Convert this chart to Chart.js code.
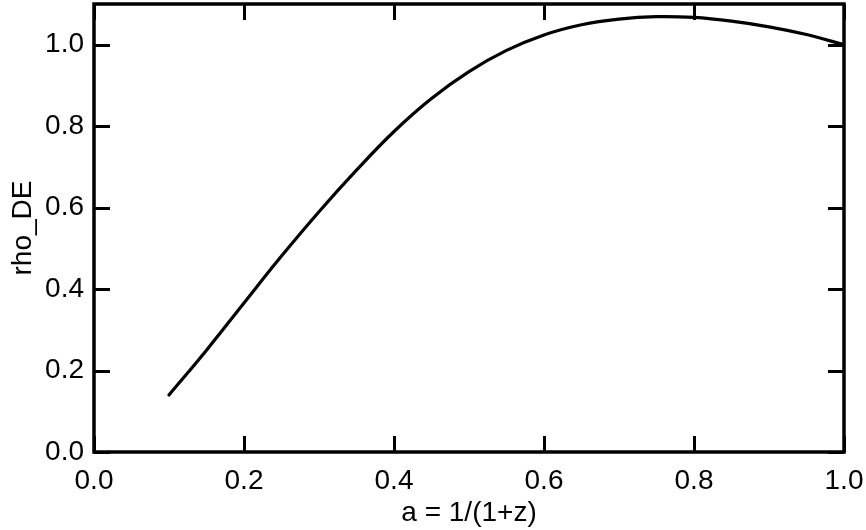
<!DOCTYPE html>
<html>
<head>
<meta charset="utf-8">
<script src="https://cdn.jsdelivr.net/npm/chart.js@4.4.1/dist/chart.umd.min.js"></script>
<style>
  html, body { margin: 0; padding: 0; background: #fff; }
  #wrap { width: 866px; height: 530px; position: relative; }
</style>
</head>
<body>
<div id="wrap"><canvas id="c" width="866" height="530"></canvas></div>
<script>
const scaleFactor = [0.10, 0.15, 0.20, 0.25, 0.30, 0.35, 0.40, 0.45, 0.50, 0.55, 0.60, 0.65, 0.70, 0.75, 0.80, 0.85, 0.90, 0.95, 1.00];
const rhoDE = [0.140, 0.250, 0.366, 0.481, 0.590, 0.692, 0.787, 0.868, 0.934, 0.986, 1.024, 1.049, 1.063, 1.069, 1.067, 1.058, 1.044, 1.025, 1.000];
const xTicks = [0.0, 0.2, 0.4, 0.6, 0.8, 1.0];
const yTicks = [0.0, 0.2, 0.4, 0.6, 0.8, 1.0];
const xTitle = 'a = 1/(1+z)';
const yTitle = 'rho_DE';

const FONT = "'Liberation Sans', Arial, Helvetica, sans-serif";

const inwardTicks = {
  id: 'inwardTicks',
  afterDraw(chart) {
    const ctx = chart.ctx;
    const a = chart.chartArea;
    const xs = chart.scales.x, ys = chart.scales.y;
    const L = 16;
    ctx.save();
    ctx.strokeStyle = '#000';
    ctx.lineWidth = 3;
    ctx.lineCap = 'butt';
    xTicks.forEach(v => {
      const px = Math.round(xs.getPixelForValue(v)) + 0.5;
      ctx.beginPath(); ctx.moveTo(px, a.bottom); ctx.lineTo(px, a.bottom - L); ctx.stroke();
      ctx.beginPath(); ctx.moveTo(px, a.top); ctx.lineTo(px, a.top + L); ctx.stroke();
    });
    yTicks.forEach(v => {
      const py = Math.round(ys.getPixelForValue(v)) + 0.5;
      ctx.beginPath(); ctx.moveTo(a.left, py); ctx.lineTo(a.left + L, py); ctx.stroke();
      ctx.beginPath(); ctx.moveTo(a.right, py); ctx.lineTo(a.right - L, py); ctx.stroke();
    });
    ctx.lineWidth = 3.5;
    ctx.strokeRect(a.left, a.top, a.right - a.left, a.bottom - a.top);
    ctx.restore();
  }
};

function zeroPad(s) { s.paddingLeft = 0; s.paddingRight = 0; s.paddingTop = 0; s.paddingBottom = 0; }

new Chart(document.getElementById('c'), {
  type: 'line',
  data: {
    datasets: [{
      data: scaleFactor.map((x, i) => ({ x: x, y: rhoDE[i] })),
      borderColor: '#000',
      borderWidth: 3.2,
      pointRadius: 0,
      tension: 0.4,
      borderCapStyle: 'round',
      fill: false
    }]
  },
  options: {
    responsive: false,
    animation: false,
    layout: { padding: { top: 4, right: 22, left: 0, bottom: 0 } },
    plugins: { legend: { display: false }, tooltip: { enabled: false } },
    scales: {
      x: {
        type: 'linear', min: 0, max: 1,
        afterBuildTicks: s => { s.ticks = xTicks.map(v => ({ value: v })); },
        afterFit: s => { s.height = 78; zeroPad(s); },
        grid: { display: false, drawTicks: false },
        border: { display: false },
        ticks: {
          color: '#000', padding: 12,
          font: { family: FONT, size: 28 },
          callback: v => v.toFixed(1),
          maxRotation: 0
        },
        title: { display: true, text: xTitle, color: '#000', font: { family: FONT, size: 28 }, padding: { top: 0, bottom: 0 } }
      },
      y: {
        type: 'linear', min: 0, max: 1.1,
        afterBuildTicks: s => { s.ticks = yTicks.map(v => ({ value: v })); },
        afterFit: s => { s.width = 94; zeroPad(s); },
        grid: { display: false, drawTicks: false },
        border: { display: false },
        ticks: {
          color: '#000', padding: 10,
          font: { family: FONT, size: 28 },
          callback: v => v.toFixed(1)
        },
        title: { display: true, text: yTitle, color: '#000', font: { family: FONT, size: 28 }, padding: { top: 6, bottom: 0 } }
      }
    }
  },
  plugins: [inwardTicks]
});
</script>
</body>
</html>
